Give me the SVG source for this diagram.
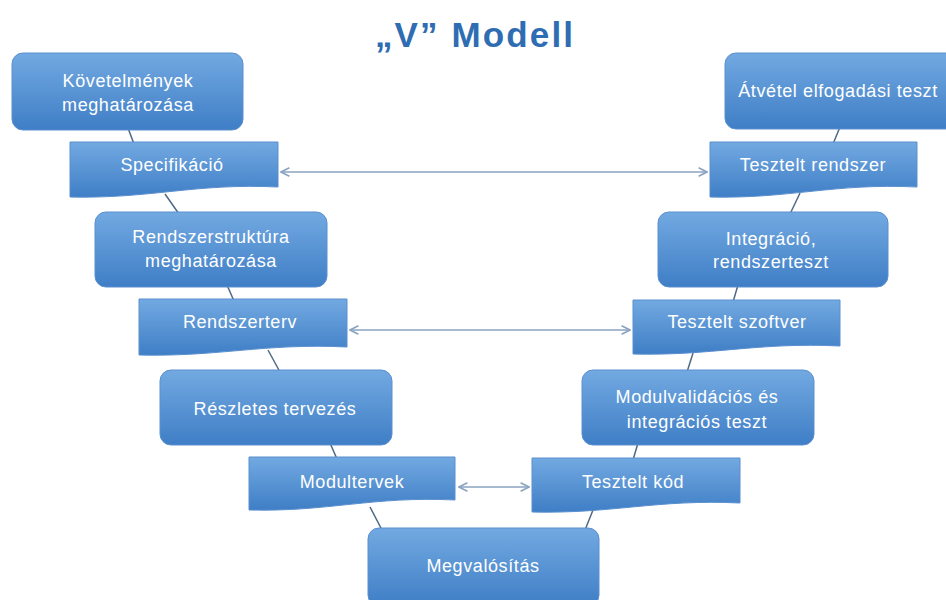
<svg xmlns="http://www.w3.org/2000/svg" width="946" height="600" viewBox="0 0 946 600">
<style>
.box{fill:url(#g);stroke:#5a8fcf;stroke-width:1}
.t{font-family:"Liberation Sans",Arial,sans-serif;font-size:18px;letter-spacing:0.6px;fill:#ffffff;text-anchor:middle}
.c{stroke:#4f6a86;stroke-width:1.5;fill:none}
.a{stroke:#8aa3c0;stroke-width:1.5;fill:none;marker-start:url(#ah);marker-end:url(#ah)}
</style>
<defs>
<linearGradient id="g" x1="0" y1="0" x2="0" y2="1">
<stop offset="0" stop-color="#72a9e1"/>
<stop offset="1" stop-color="#3f7ec6"/>
</linearGradient>
<marker id="ah" viewBox="0 0 10 10" refX="9" refY="5" markerWidth="7" markerHeight="7" orient="auto-start-reverse">
<path d="M1,1 L9,5 L1,9" fill="none" stroke="#8aa3c0" stroke-width="1.5"/>
</marker>
</defs>
<rect width="946" height="600" fill="#ffffff"/>
<text x="474" y="47" font-family="'Liberation Sans',Arial,sans-serif" font-size="35" font-weight="bold" fill="#2f6db3" text-anchor="middle" textLength="198">„V” Modell</text>
<g id="connectors">
<line class="c" x1="128" y1="128" x2="134" y2="144"/>
<line class="c" x1="165" y1="194" x2="179" y2="214"/>
<line class="c" x1="227" y1="285" x2="234" y2="301"/>
<line class="c" x1="268" y1="350" x2="280" y2="372"/>
<line class="c" x1="330" y1="443" x2="337" y2="459"/>
<line class="c" x1="370" y1="507" x2="382" y2="530"/>
<line class="c" x1="840" y1="127" x2="833" y2="144"/>
<line class="c" x1="800" y1="193" x2="790" y2="214"/>
<line class="c" x1="738" y1="285" x2="733" y2="302"/>
<line class="c" x1="694" y1="350" x2="687" y2="372"/>
<line class="c" x1="638" y1="443" x2="633" y2="460"/>
<line class="c" x1="593" y1="510" x2="585" y2="530"/>
<line class="a" x1="281" y1="172" x2="707" y2="172"/>
<line class="a" x1="350" y1="330" x2="630" y2="330"/>
<line class="a" x1="459" y1="487" x2="529" y2="487"/>
</g>
<g id="kovetelmenyek">
<rect class="box" x="12" y="53" width="231" height="77" rx="11"/>
<text class="t" x="128" y="87">Követelmények</text>
<text class="t" x="128" y="111">meghatározása</text>
</g>
<g id="specifikacio">
<path class="box" d="M70,142 H278 V187 C195,183 150,199 70,197 Z"/>
<text class="t" x="172" y="171">Specifikáció</text>
</g>
<g id="rendszerstruktura">
<rect class="box" x="95" y="212" width="232" height="75" rx="11"/>
<text class="t" x="211" y="243">Rendszerstruktúra</text>
<text class="t" x="211" y="267">meghatározása</text>
</g>
<g id="rendszerterv">
<path class="box" d="M139,299 H347 V347 C264,343 219,357 139,355 Z"/>
<text class="t" x="240" y="328">Rendszerterv</text>
</g>
<g id="reszletes">
<rect class="box" x="160" y="370" width="232" height="75" rx="11"/>
<text class="t" x="275" y="415">Részletes tervezés</text>
</g>
<g id="modultervek">
<path class="box" d="M249,457 H455 V500 C373,496 328,512 249,510 Z"/>
<text class="t" x="352" y="488">Modultervek</text>
</g>
<g id="megvalositas">
<rect class="box" x="368" y="528" width="231" height="78" rx="11"/>
<text class="t" x="483" y="572">Megvalósítás</text>
</g>
<g id="atvetel">
<rect class="box" x="725" y="53" width="232" height="76" rx="11"/>
<text class="t" x="838" y="97">Átvétel elfogadási teszt</text>
</g>
<g id="tesztelt-rendszer">
<path class="box" d="M710,142 H917 V187 C834,183 789,199 710,197 Z"/>
<text class="t" x="813" y="171">Tesztelt rendszer</text>
</g>
<g id="integracio">
<rect class="box" x="658" y="212" width="230" height="75" rx="11"/>
<text class="t" x="771" y="245">Integráció,</text>
<text class="t" x="771" y="268">rendszerteszt</text>
</g>
<g id="tesztelt-szoftver">
<path class="box" d="M633,300 H840 V346 C757,342 712,356 633,354 Z"/>
<text class="t" x="737" y="328">Tesztelt szoftver</text>
</g>
<g id="modulvalidacios">
<rect class="box" x="582" y="370" width="232" height="75" rx="11"/>
<text class="t" x="697" y="403">Modulvalidációs és</text>
<text class="t" x="697" y="428">integrációs teszt</text>
</g>
<g id="tesztelt-kod">
<path class="box" d="M532,458 H740 V503 C657,499 612,514 532,512 Z"/>
<text class="t" x="633" y="488">Tesztelt kód</text>
</g>
</svg>
